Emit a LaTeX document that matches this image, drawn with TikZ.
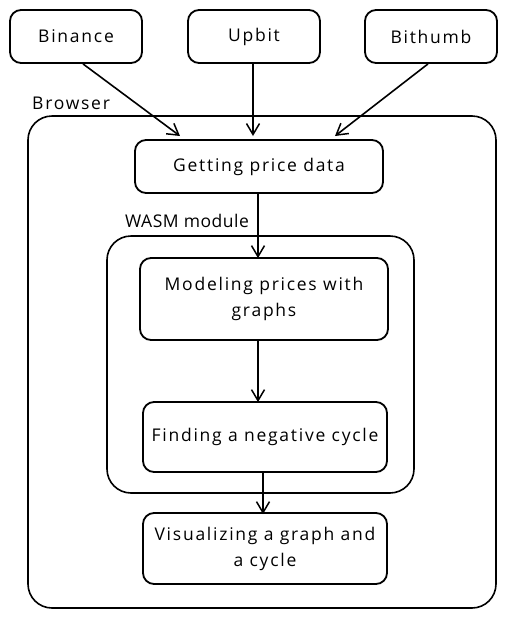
\documentclass[tikz,border=0pt]{standalone}
\usepackage{fontspec}
\setmainfont{Open Sans}[LetterSpace=10]
\usetikzlibrary{arrows.meta}
\begin{document}
\begin{tikzpicture}[x=1pt,y=-1pt,
  box/.style={draw,line width=1.8pt,rounded corners=11pt,align=center,font=\fontsize{17.5}{26}\selectfont,inner sep=0pt},
  group/.style={draw,line width=1.6pt,rounded corners=24pt},
  lbl/.style={font=\fontsize{17.5}{20}\selectfont,anchor=west,inner sep=0pt},
  conn/.style={line width=1.6pt,-{Straight Barb[length=11pt,width=13pt,line width=1.5pt]}}]
\useasboundingbox (0,0) rectangle (507,619);
% groups
\draw[group] (28,116) rectangle (496,608);
\node[lbl] (browser) at (32,103) {Browser};
\draw[group] (107,236) rectangle (414,493);
\node[lbl] (wasm) at (125,221) {\addfontfeatures{LetterSpace=3}WASM module};
% sources
\node[box,minimum width=132pt,minimum height=53pt] (binance) at (76,36.5) {Binance};
\node[box,minimum width=132pt,minimum height=53pt] (upbit) at (254,36.5) {Upbit};
\node[box,minimum width=132pt,minimum height=53pt] (bithumb) at (431,36.5) {Bithumb};
% steps
\node[box,minimum width=248pt,minimum height=53pt] (get) at (259,166.5) {Getting price data};
\node[box,minimum width=248pt,minimum height=82pt] (model) at (264,299) {Modeling prices with\\graphs};
\node[box,minimum width=244pt,minimum height=70pt] (find) at (265,437) {Finding a negative cycle};
\node[box,minimum width=244pt,minimum height=71pt] (vis) at (265,548.5) {Visualizing a graph and\\a cycle};
% connectors
\coordinate (b0) at (83,65); \coordinate (b1) at (180,136);
\coordinate (u0) at (253,65); \coordinate (u1) at (253,136);
\coordinate (t0) at (428,65); \coordinate (t1) at (335,136);
\draw[conn] (binance.south -| b0) -- (b1);
\draw[conn] (upbit.south -| u0) -- (u1);
\draw[conn] (bithumb.south -| t0) -- (t1);
\draw[conn] (get.south -| 258,0) -- ([yshift=-1pt]model.north -| 258,0);
\draw[conn] (model.south -| 258,0) -- ([yshift=-1pt]find.north -| 258,0);
\draw[conn] (find.south -| 263,0) -- ([yshift=-2pt]vis.north -| 263,0);
\end{tikzpicture}
\end{document}
